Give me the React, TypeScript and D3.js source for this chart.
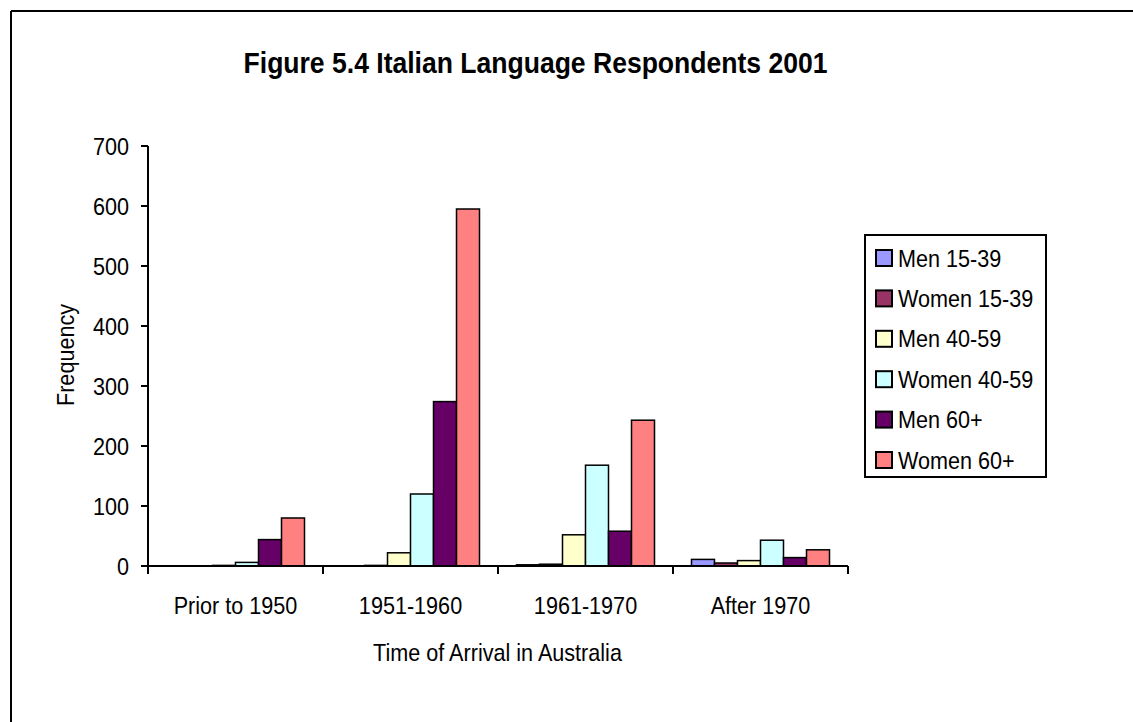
import React from "react";
import * as d3 from "d3";

const categories = ["Prior to 1950", "1951-1960", "1961-1970", "After 1970"];
const seriesNames = ["Men 15-39", "Women 15-39", "Men 40-59", "Women 40-59", "Men 60+", "Women 60+"];
const seriesColors = ["#9999FF", "#993366", "#FFFFCC", "#CCFFFF", "#660066", "#FF8080"];
const men1539 = [0, 0, 2, 11];
const women1539 = [0, 1, 3, 5];
const men4059 = [1, 22, 52, 9];
const women4059 = [6, 120, 168, 43];
const men60 = [44, 274, 58, 14];
const women60 = [80, 595, 243, 27];
const yTicks = [0, 100, 200, 300, 400, 500, 600, 700];

const seriesValues = [men1539, women1539, men4059, women4059, men60, women60];

const FONT = "'Liberation Sans', Arial, sans-serif";
const SX = 0.9;

function T(props: { x: number; y: number; anchor?: string; size?: number; bold?: boolean; rotate?: number; children: React.ReactNode }) {
  const { x, y, anchor = "start", size = 24, bold = false, rotate = 0 } = props;
  return (
    <g transform={`translate(${x},${y}) rotate(${rotate}) scale(${SX},1)`}>
      <text x={0} y={0} dy="0.36em" textAnchor={anchor} fontSize={size} fontWeight={bold ? "bold" : "normal"} fill="#000">
        {props.children}
      </text>
    </g>
  );
}

export default function App() {
  const W = 1133, H = 722;
  const x0 = 148, x1 = 848, yTop = 146, yBase = 566;
  const x = d3.scaleBand<string>().domain(categories).range([x0, x1]);
  const y = d3.scaleLinear().domain([0, 700]).range([yBase, yTop]);
  const bw = 23;
  const groupW = bw * seriesNames.length;

  return (
    <svg width={W} height={H} style={{ position: "absolute", left: 0, top: 0, background: "#fff" }}
      fontFamily={FONT}>
      <rect x={0} y={0} width={W} height={H} fill="#fff" />
      <line x1={11} y1={11} x2={W + 5} y2={11} stroke="#000" strokeWidth={2} />
      <line x1={11} y1={11} x2={11} y2={H + 5} stroke="#000" strokeWidth={2} />

      <T x={535.5} y={62} anchor="middle" size={29.5} bold>Figure 5.4 Italian Language Respondents 2001</T>

      {categories.map((c, ci) => {
        const gx = (x(c) as number) + x.bandwidth() / 2 - groupW / 2;
        return (
          <g key={c}>
            {seriesNames.map((s, si) => {
              const v = seriesValues[si][ci];
              const top = y(v);
              return (
                <rect key={s} x={gx + si * bw} y={top} width={bw} height={Math.max(0, yBase - top)}
                  fill={seriesColors[si]} stroke="#000" strokeWidth={1.5} />
              );
            })}
          </g>
        );
      })}

      <line x1={x0} y1={yTop} x2={x0} y2={yBase} stroke="#000" strokeWidth={2} />
      {yTicks.map((t) => (
        <g key={t}>
          <line x1={x0 - 7} x2={x0} y1={y(t)} y2={y(t)} stroke="#000" strokeWidth={2} />
          <T x={129} y={y(t)} anchor="end">{t}</T>
        </g>
      ))}

      <line x1={x0} y1={yBase} x2={x1} y2={yBase} stroke="#000" strokeWidth={2} />
      {[...categories.map((c) => x(c) as number), x1].map((p, i) => (
        <line key={i} x1={p} x2={p} y1={yBase} y2={yBase + 8} stroke="#000" strokeWidth={2} />
      ))}
      {categories.map((c) => (
        <T key={c} x={(x(c) as number) + x.bandwidth() / 2} y={605} anchor="middle">{c}</T>
      ))}

      <T x={497.5} y={652} anchor="middle">Time of Arrival in Australia</T>
      <T x={65} y={355} anchor="middle" rotate={-90}>Frequency</T>

      <rect x={865} y={235} width={181} height={242} fill="#fff" stroke="#000" strokeWidth={2} />
      {seriesNames.map((s, i) => {
        const cy = 258 + i * 40.4;
        return (
          <g key={s}>
            <rect x={876} y={cy - 8} width={16} height={16} fill={seriesColors[i]} stroke="#000" strokeWidth={2} />
            <T x={898} y={cy}>{s}</T>
          </g>
        );
      })}
    </svg>
  );
}
